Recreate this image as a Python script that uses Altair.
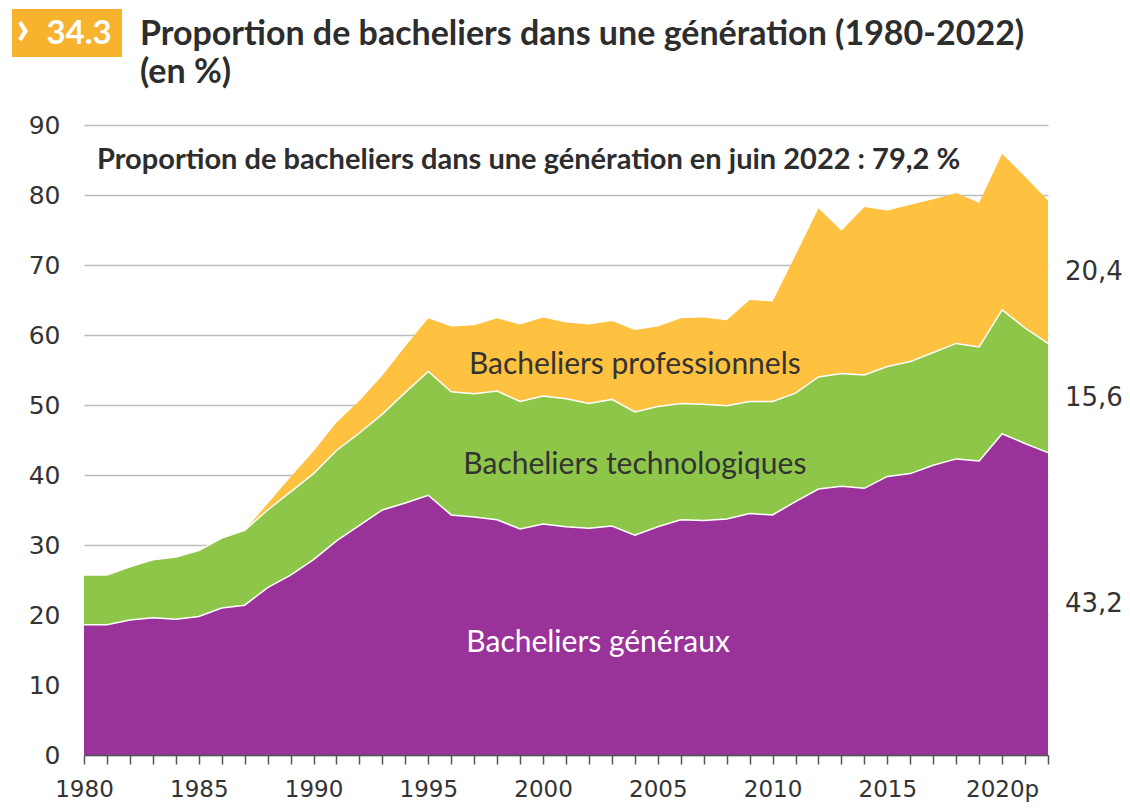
import altair as alt
import pandas as pd

years = list(range(1980, 2023))
general = [18.6, 18.6, 19.3, 19.6, 19.4, 19.8, 21.0, 21.4, 23.9, 25.7,
           27.9, 30.6, 32.8, 35.0, 36.0, 37.1, 34.3, 34.0, 33.6, 32.3,
           33.0, 32.6, 32.4, 32.7, 31.4, 32.6, 33.6, 33.5, 33.7, 34.5,
           34.3, 36.2, 38.0, 38.4, 38.1, 39.8, 40.2, 41.4, 42.3, 42.0,
           45.9, 44.5, 43.2]
techno = [7.1, 7.1, 7.6, 8.3, 8.9, 9.4, 10.0, 10.7, 11.1, 11.9,
          12.3, 12.9, 13.2, 13.7, 15.8, 17.7, 17.6, 17.6, 18.4, 18.2,
          18.3, 18.3, 17.8, 18.1, 17.6, 17.2, 16.6, 16.6, 16.2, 16.0,
          16.2, 15.5, 16.0, 16.1, 16.2, 15.7, 16.0, 16.1, 16.5, 16.3,
          17.7, 16.5, 15.6]
pro = [None, None, None, None, None, None, None, 0.0, 0.9, 2.1,
       3.2, 4.0, 4.6, 5.5, 6.6, 7.6, 9.3, 9.8, 10.4, 11.0,
       11.2, 10.9, 11.3, 11.2, 11.7, 11.4, 12.2, 12.4, 12.2, 14.5,
       14.3, 19.7, 24.1, 20.4, 24.0, 22.3, 22.4, 21.9, 21.5, 20.6,
       22.3, 21.6, 20.4]

label_years = [1980, 1985, 1990, 1995, 2000, 2005, 2010, 2015, 2020]
label_texts = ["1980", "1985", "1990", "1995", "2000", "2005", "2010", "2015", "2020p"]

series_names = ["Bacheliers généraux", "Bacheliers technologiques", "Bacheliers professionnels"]
series_colors = ["#993399", "#8DC649", "#FEC140"]
last_values = ["43,2", "15,6", "20,4"]

area_label_years = [2002.4, 2004.0, 2004.0]
area_label_values = [16.0, 41.4, 55.7]
area_label_colors = ["#ffffff", "#333333", "#333333"]

title_line1 = "Proportion de bacheliers dans une génération (1980-2022)"
title_line2 = "(en %)"
badge = "34.3"
note = "Proportion de bacheliers dans une génération en juin 2022 : 79,2 %"

df = pd.DataFrame({"year": years, "general": general, "techno": techno, "pro": pro})
df["base"] = 0.0
df["c1"] = df["general"]
df["c2"] = df["general"] + df["techno"]
df["c3"] = df["c2"] + df["pro"]
df_pro = df[df["pro"].notna()].copy()

expr = ""
for yv, tx in zip(label_years, label_texts):
    expr += f"datum.value == {yv} ? '{tx}' : "
expr += "''"

X = alt.X("year:Q",
          scale=alt.Scale(domain=[1980, 2022], nice=False, zero=False),
          axis=alt.Axis(values=years, labelExpr=expr, title=None, grid=False,
                        domainColor="#555555", domainWidth=1.5,
                        tickColor="#555555", tickWidth=1.5, tickSize=9,
                        labelFont="DejaVu Sans", labelFontSize=23, labelColor="#333333",
                        labelPadding=14, labelFlush=False, labelOverlap=False,
                        labelBound=False, zindex=1))
Y_AX = alt.Axis(values=list(range(0, 91, 10)), title=None, grid=True,
                gridColor="#bcbcbc", gridWidth=1.5, domain=False, ticks=False,
                tickSize=0, labelFont="DejaVu Sans", labelFontSize=25,
                labelColor="#333333", labelPadding=24)
Ysc = alt.Scale(domain=[0, 90], nice=False)

a_gen = alt.Chart(df).mark_area(color=series_colors[0]).encode(
    x=X, y=alt.Y("c1:Q", scale=Ysc, axis=Y_AX), y2="base:Q")
a_tec = alt.Chart(df).mark_area(color=series_colors[1]).encode(
    x=X, y=alt.Y("c2:Q", scale=Ysc, axis=Y_AX), y2="c1:Q")
a_pro = alt.Chart(df_pro).mark_area(color=series_colors[2]).encode(
    x=X, y=alt.Y("c3:Q", scale=Ysc, axis=Y_AX), y2="c2:Q")
l1 = alt.Chart(df).mark_line(color="white", strokeWidth=1.5).encode(
    x=X, y=alt.Y("c1:Q", scale=Ysc, axis=Y_AX))
l2 = alt.Chart(df).mark_line(color="white", strokeWidth=1.5).encode(
    x=X, y=alt.Y("c2:Q", scale=Ysc, axis=Y_AX))

# right-hand labels at band midpoints in 2022
last = df.iloc[-1]
mids = [last["c1"] / 2, (last["c1"] + last["c2"]) / 2, (last["c2"] + last["c3"]) / 2]
df_right = pd.DataFrame({"year": [2022] * 3, "mid": mids, "txt": last_values})
right_txt = alt.Chart(df_right).mark_text(
    align="left", baseline="middle", dx=17, font="DejaVu Sans", fontSize=26,
    color="#333333").encode(
    x=X, y=alt.Y("mid:Q", scale=Ysc, axis=Y_AX), text="txt:N")

df_al = pd.DataFrame({"year": area_label_years, "val": area_label_values,
                      "txt": series_names, "col": area_label_colors})
area_txt = alt.Chart(df_al).mark_text(
    align="center", baseline="middle", font="Lato", fontSize=30).encode(
    x=X, y=alt.Y("val:Q", scale=Ysc, axis=Y_AX), text="txt:N",
    color=alt.Color("col:N", scale=None))

one = pd.DataFrame({"k": [0]})
note_txt = alt.Chart(one).mark_text(
    text=note, align="left", baseline="middle", font="Lato", fontWeight="bold",
    fontSize=29, color="#2d2d2d").encode(x=alt.value(13), y=alt.value(35))

box = alt.Chart(one).mark_rect(color="#F7B32E").encode(
    x=alt.value(-72), x2=alt.value(38), y=alt.value(-116), y2=alt.value(-68))
chev = alt.Chart(one).mark_text(
    text="›", align="center", baseline="middle", font="Lato", fontWeight="bold",
    fontSize=48, color="white").encode(x=alt.value(-61), y=alt.value(-95))
badge_txt = alt.Chart(one).mark_text(
    text=badge, align="center", baseline="middle", font="Lato", fontWeight="bold",
    fontSize=33, color="white").encode(x=alt.value(-5), y=alt.value(-91))
t1 = alt.Chart(one).mark_text(
    text=title_line1, align="left", baseline="middle", font="Lato", fontWeight="bold",
    fontSize=34, color="#2d2d2d").encode(x=alt.value(56), y=alt.value(-90))
t2 = alt.Chart(one).mark_text(
    text=title_line2, align="left", baseline="middle", font="Lato", fontWeight="bold",
    fontSize=34, color="#2d2d2d").encode(x=alt.value(56), y=alt.value(-52))

chart = alt.layer(
    a_gen, a_tec, a_pro, l1, l2, right_txt, area_txt, note_txt,
    box, chev, badge_txt, t1, t2
).properties(
    width=964, height=630,
    autosize=alt.AutoSizeParams(type="none"),
    padding={"left": 76, "top": 117, "right": 74, "bottom": 49},
    background="white",
).configure_view(stroke=None)

chart.save("out.html", embed_options={"renderer": "svg", "actions": False})
